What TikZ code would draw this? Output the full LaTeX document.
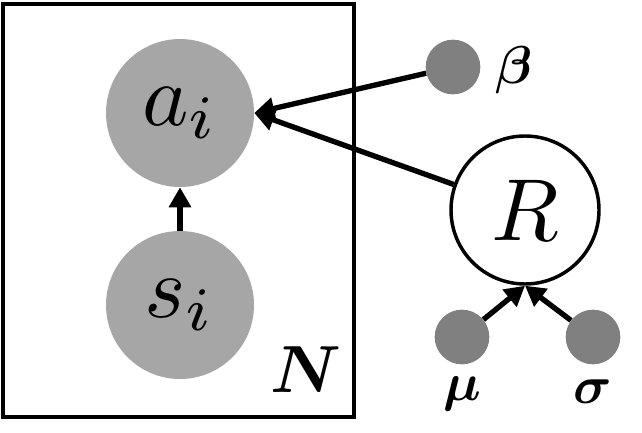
\documentclass[tikz,border=0pt]{standalone}
\usepackage{amsmath}
\usepackage{bm}
\usetikzlibrary{arrows.meta}
\definecolor{obsgray}{HTML}{A6A6A6}
\definecolor{pargray}{HTML}{808080}
\newcommand{\bigvar}[1]{\scalebox{6.6}{$#1$}}
\newcommand{\parvar}[1]{\scalebox{4}{$\bm{#1}$}}
\begin{document}
\begin{tikzpicture}[x=0.75pt, y=-0.75pt,
		bignode/.style={circle, inner sep=0pt, minimum size=111pt},
		parnode/.style={circle, fill=pargray, inner sep=0pt, minimum size=41pt},
		edge/.style={line width=4pt, -{Triangle[length=15pt, width=16pt]}}]
		\useasboundingbox (0,0) rectangle (642,432);
		\draw[line width=3pt] (3,4) rectangle (354,417);
		\node[bignode, fill=obsgray] (ai) at (180,113) {\bigvar{a_{\scriptstyle i}}};
		\node[bignode, fill=obsgray] (si) at (180,305) {\bigvar{s_{\scriptstyle i}}};
		\node (N) at (306,370) {\scalebox{5}{$\bm{N}$}};
		\node[parnode] (beta) at (453,67) {};
		\node (betalabel) at (514,70) {\parvar{\beta}};
		\node[bignode, draw, line width=2.6pt, fill=white] (R) at (525,210) {\bigvar{R}};
		\node[parnode] (mu) at (462,337) {};
		\node[parnode] (sigma) at (593,337) {};
		\node (mulabel) at (462,394) {\parvar{\mu}};
		\node (sigmalabel) at (593,392) {\parvar{\sigma}};
		\draw[edge] (si) -- (ai);
		\draw[edge] (beta) -- (ai.east);
		\draw[edge] (R) -- (ai.east);
		\draw[edge] (mu) -- (R.south);
		\draw[edge] (sigma) -- (R.south);
	\end{tikzpicture}
\end{document}
